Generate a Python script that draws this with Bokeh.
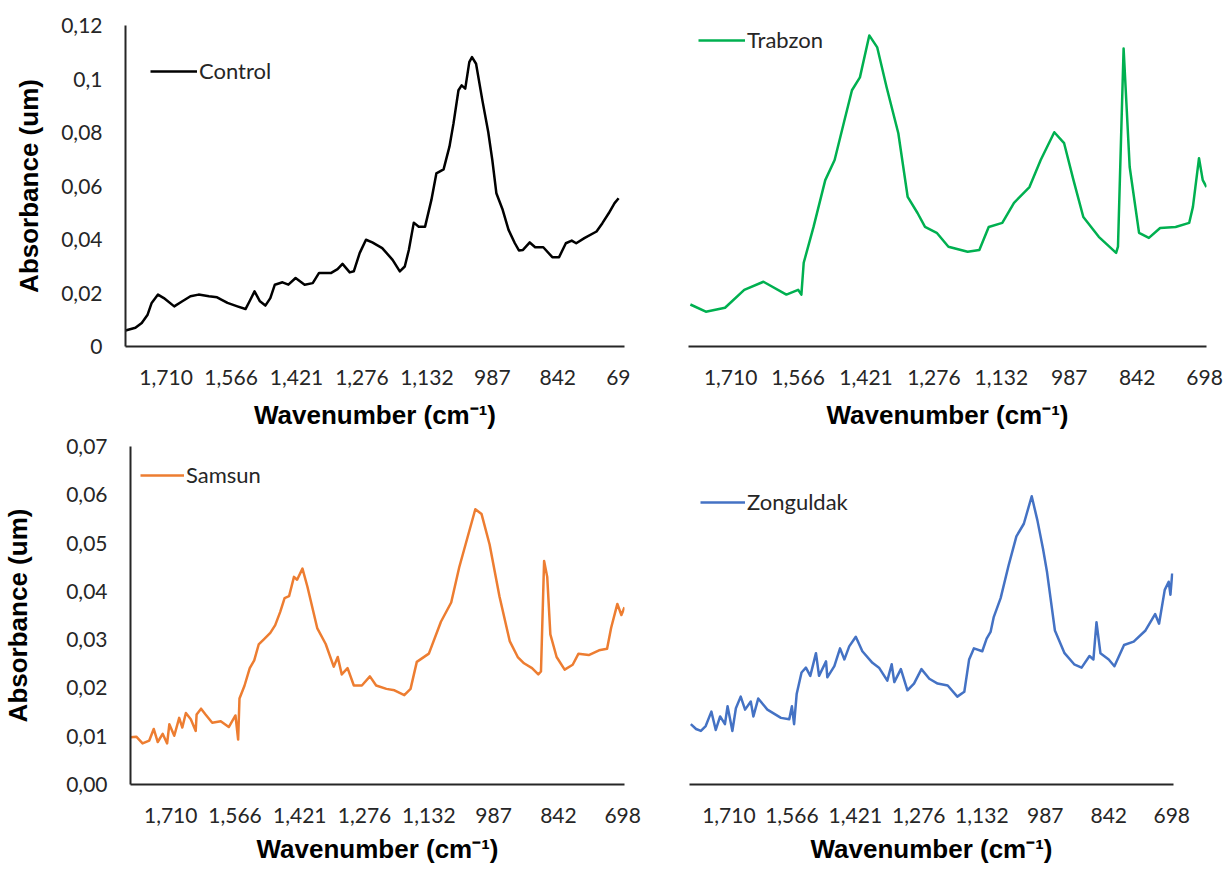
from bokeh.plotting import figure
from bokeh.layouts import column, row
from bokeh.models import Range1d, FixedTicker, Legend, LegendItem
from bokeh.embed import file_html
from bokeh.resources import INLINE

# ---------------- data ----------------
x_ticks = [1710, 1566, 1421, 1276, 1132, 987, 842, 698]
x_tick_labels = ["1,710", "1,566", "1,421", "1,276", "1,132", "987", "842", "698"]
# the Control panel is cropped in the reference: its last label reads "69"
ctrl_x_tick_labels = ["1,710", "1,566", "1,421", "1,276", "1,132", "987", "842", "69"]

ctrl_y_ticks = [0.0, 0.02, 0.04, 0.06, 0.08, 0.1, 0.12]
ctrl_y_labels = ["0", "0,02", "0,04", "0,06", "0,08", "0,1", "0,12"]

sams_y_ticks = [0.0, 0.01, 0.02, 0.03, 0.04, 0.05, 0.06, 0.07]
sams_y_labels = ["0,00", "0,01", "0,02", "0,03", "0,04", "0,05", "0,06", "0,07"]

control_wn = [1800, 1778, 1764, 1751, 1742, 1728, 1715, 1692, 1674, 1656,
              1638, 1615, 1597, 1574, 1552, 1534, 1525, 1514, 1502, 1490,
              1479, 1469, 1452, 1439, 1423, 1403, 1385, 1371, 1344, 1330,
              1319, 1303, 1294, 1281, 1267, 1253, 1231, 1208, 1192, 1181,
              1172, 1161, 1150, 1136, 1122, 1111, 1095, 1082, 1073, 1062,
              1055, 1047, 1038, 1032, 1023, 1009, 996, 987, 978, 964,
              951, 937, 928, 919, 904, 892, 874, 854, 839, 824,
              811, 801, 783, 756, 743, 729, 716, 707]
control_abs = [0.0060, 0.0070, 0.0088, 0.0119, 0.0163, 0.0194, 0.0181, 0.0150, 0.0169, 0.0188,
               0.0194, 0.0188, 0.0184, 0.0163, 0.0150, 0.0140, 0.0169, 0.0206, 0.0169, 0.0153,
               0.0181, 0.0231, 0.0240, 0.0231, 0.0256, 0.0231, 0.0237, 0.0275, 0.0275, 0.0289,
               0.0309, 0.0277, 0.0281, 0.0349, 0.0399, 0.0389, 0.0368, 0.0324, 0.0281, 0.0299,
               0.0361, 0.0463, 0.0448, 0.0448, 0.0548, 0.0647, 0.0662, 0.0747, 0.0834, 0.0958,
               0.0976, 0.0964, 0.1063, 0.1082, 0.1057, 0.0920, 0.0802, 0.0697, 0.0573, 0.0511,
               0.0436, 0.0386, 0.0359, 0.0361, 0.0389, 0.0371, 0.0371, 0.0334, 0.0334, 0.0386,
               0.0396, 0.0386, 0.0405, 0.0430, 0.0461, 0.0498, 0.0536, 0.0554]

trabzon_wn = [1796, 1763, 1722, 1681, 1640, 1591, 1566, 1559, 1554, 1533,
              1508, 1488, 1467, 1451, 1434, 1414, 1397, 1377, 1352, 1332,
              1311, 1295, 1270, 1245, 1204, 1179, 1159, 1130, 1105, 1072,
              1048, 1019, 998, 978, 957, 924, 887, 883, 871, 858,
              838, 817, 793, 760, 731, 723, 710, 702, 694]
trabzon_abs = [0.0157, 0.0130, 0.0145, 0.0212, 0.0242, 0.0194, 0.0212, 0.0194, 0.0313, 0.0447,
               0.0622, 0.0697, 0.0846, 0.0958, 0.1006, 0.1163, 0.1118, 0.0969, 0.0797, 0.0559,
               0.0499, 0.0447, 0.0425, 0.0373, 0.0354, 0.0361, 0.0447, 0.0462, 0.0537, 0.0596,
               0.0697, 0.0801, 0.0760, 0.0622, 0.0484, 0.0410, 0.0350, 0.0373, 0.1114, 0.0671,
               0.0425, 0.0406, 0.0443, 0.0447, 0.0462, 0.0522, 0.0704, 0.0622, 0.0596]

samsun_wn = [1800, 1787, 1773, 1758, 1748, 1739, 1728, 1718, 1713, 1702,
             1691, 1684, 1676, 1665, 1654, 1652, 1642, 1632, 1617, 1598,
             1580, 1565, 1559, 1556, 1545, 1533, 1523, 1513, 1502, 1487,
             1476, 1465, 1455,
             1445, 1434, 1427, 1415, 1404, 1382, 1363, 1345, 1336, 1327,
             1314, 1300, 1282, 1264, 1250, 1227, 1209, 1187, 1173, 1159,
             1132, 1105, 1082, 1064, 1046, 1028, 1014, 996, 974, 951,
             933, 919, 901, 887, 881, 874, 867, 860, 846, 828,
             810, 797, 774, 751, 733, 724, 710, 701, 694]
samsun_abs = [0.0098, 0.0099, 0.0085, 0.0091, 0.0115, 0.0088, 0.0105, 0.0085, 0.0125, 0.0101,
              0.0138, 0.0118, 0.0148, 0.0135, 0.0111, 0.0145, 0.0157, 0.0145, 0.0128, 0.0131,
              0.0119, 0.0143, 0.0093, 0.0178, 0.0204, 0.0241, 0.0257, 0.0290, 0.0300, 0.0314,
              0.0330, 0.0357, 0.0386,
              0.0390, 0.0430, 0.0424, 0.0447, 0.0410, 0.0324, 0.0291, 0.0244, 0.0264, 0.0228,
              0.0241, 0.0205, 0.0205, 0.0224, 0.0205, 0.0198, 0.0195, 0.0185, 0.0198, 0.0254,
              0.0271, 0.0337, 0.0377, 0.0450, 0.0510, 0.0570, 0.0560, 0.0497, 0.0390, 0.0297,
              0.0264, 0.0251, 0.0241, 0.0228, 0.0234, 0.0463, 0.0430, 0.0311, 0.0264, 0.0238,
              0.0248, 0.0271, 0.0268, 0.0278, 0.0281, 0.0324, 0.0374, 0.0351, 0.0367]

zonguldak_wn = [1797, 1785, 1774, 1763, 1750, 1740, 1730, 1719, 1713, 1702,
                1694, 1683, 1673, 1660, 1654, 1643, 1622, 1591, 1572, 1566,
                1561, 1555, 1544, 1534, 1524, 1511, 1504, 1488, 1485, 1469,
                1456, 1446, 1435, 1420, 1405, 1382, 1367, 1348, 1338, 1332,
                1317, 1302, 1287, 1270, 1252, 1233, 1210, 1188, 1172, 1161,
                1150, 1131, 1121, 1112, 1105, 1089, 1071, 1053, 1036, 1018,
                1005, 992, 983, 965, 943, 921, 904, 886, 877, 870,
                861, 842, 829, 807, 785, 758, 736, 727, 714, 705,
                701, 697]
zonguldak_abs = [0.0125, 0.0115, 0.0111, 0.0121, 0.0151, 0.0113, 0.0141, 0.0125, 0.0162, 0.0111,
                 0.0158, 0.0182, 0.0155, 0.0172, 0.0141, 0.0178, 0.0155, 0.0138, 0.0135, 0.0162,
                 0.0125, 0.0188, 0.0232, 0.0242, 0.0225, 0.0272, 0.0225, 0.0255, 0.0222, 0.0245,
                 0.0282, 0.0259, 0.0286, 0.0306, 0.0276, 0.0252, 0.0242, 0.0215, 0.0249, 0.0212,
                 0.0239, 0.0195, 0.0209, 0.0239, 0.0219, 0.0209, 0.0205, 0.0182, 0.0192, 0.0259,
                 0.0282, 0.0276, 0.0302, 0.0316, 0.0346, 0.0386, 0.0453, 0.0514, 0.0540, 0.0597,
                 0.0547, 0.0487, 0.0440, 0.0319, 0.0272, 0.0249, 0.0242, 0.0266, 0.0259, 0.0336,
                 0.0272, 0.0259, 0.0245, 0.0289, 0.0296, 0.0319, 0.0353, 0.0333, 0.0403, 0.0420,
                 0.0393, 0.0437]

X_START, X_END = 1800, 694
TICK_FONT = "Lato"
TICK_COLOR = "#262626"
AXIS_COLOR = "#262626"


def make_panel(width, height, bl, br, bt, bb, ymax, show_y, xlabels, yticks=None, ylabels=None,
               y_label_standoff=14, x_label_standoff=23, x_axis_label_standoff=12,
               axis_w=2):
    p = figure(width=width, height=height, title=None,
               x_range=Range1d(X_START, X_END), y_range=Range1d(0, ymax),
               output_backend="svg", toolbar_location=None,
               min_border_left=bl, min_border_right=br,
               min_border_top=bt, min_border_bottom=bb)
    p.outline_line_color = None
    p.grid.visible = False
    p.background_fill_color = "white"
    p.border_fill_color = "white"

    xa = p.xaxis[0]
    xa.ticker = FixedTicker(ticks=x_ticks)
    xa.major_label_overrides = {t: l for t, l in zip(x_ticks, xlabels)}
    xa.major_tick_out = 0
    xa.major_tick_in = 0
    xa.minor_tick_out = 0
    xa.minor_tick_in = 0
    xa.major_label_standoff = x_label_standoff
    xa.major_label_text_font = TICK_FONT
    xa.major_label_text_font_size = "21px"
    xa.major_label_text_color = TICK_COLOR
    xa.axis_line_color = AXIS_COLOR
    xa.axis_line_width = axis_w
    xa.axis_label = "Wavenumber (cm\u207b\u00b9)"
    xa.axis_label_text_font = "Liberation Sans"
    xa.axis_label_text_font_style = "bold"
    xa.axis_label_text_font_size = "26px"
    xa.axis_label_text_color = "black"
    xa.axis_label_standoff = x_axis_label_standoff

    ya = p.yaxis[0]
    if show_y:
        ya.ticker = FixedTicker(ticks=yticks)
        ya.major_label_overrides = {t: l for t, l in zip(yticks, ylabels)}
        ya.major_tick_out = 0
        ya.major_tick_in = 0
        ya.minor_tick_out = 0
        ya.minor_tick_in = 0
        ya.major_label_standoff = 23
        ya.major_label_text_font = TICK_FONT
        ya.major_label_text_font_size = "21px"
        ya.major_label_text_color = TICK_COLOR
        ya.axis_line_color = AXIS_COLOR
        ya.axis_line_width = axis_w
        ya.axis_label = "Absorbance (um)"
        ya.axis_label_text_font = "Liberation Sans"
        ya.axis_label_text_font_style = "bold"
        ya.axis_label_text_font_size = "26px"
        ya.axis_label_text_color = "black"
        ya.axis_label_standoff = y_label_standoff
    else:
        ya.visible = False
    return p


def add_series(p, xs, ys, color, name, dx, dist_top, glyph_w, frame_h):
    r = p.line(xs, ys, line_color=color, line_width=2.5, line_join="round")
    item_h = 26
    leg = Legend(items=[LegendItem(label=name, renderers=[r])],
                 location=(dx, frame_h - dist_top - item_h / 2),
                 glyph_width=glyph_w, glyph_height=item_h, label_height=item_h,
                 label_standoff=2, padding=0, margin=0, spacing=0,
                 label_text_font=TICK_FONT, label_text_font_size="22px",
                 label_text_color=TICK_COLOR,
                 border_line_color=None, background_fill_alpha=0)
    p.add_layout(leg)
    return r


TOP_H, BOT_H = 432, 436
TOP_BT, TOP_BB = 25, 85
BOT_BT, BOT_BB = 14, 84
top_frame_h = TOP_H - TOP_BT - TOP_BB
bot_frame_h = BOT_H - BOT_BT - BOT_BB

p1 = make_panel(630, TOP_H, 125, 6, TOP_BT, TOP_BB, 0.12, True, ctrl_x_tick_labels,
                ctrl_y_ticks, ctrl_y_labels, y_label_standoff=14)
add_series(p1, control_wn, control_abs, "#000000", "Control", 25, 47, 47, top_frame_h)

p2 = make_panel(594, TOP_H, 58, 18, TOP_BT, TOP_BB, 0.12, False, x_tick_labels, axis_w=1.8)
add_series(p2, trabzon_wn, trabzon_abs, "#00B050", "Trabzon", 10, 16, 47, top_frame_h)

p3 = make_panel(648, BOT_H, 125, 24, BOT_BT, BOT_BB, 0.07, True, x_tick_labels,
                sams_y_ticks, sams_y_labels,
                y_label_standoff=30, x_label_standoff=23, x_axis_label_standoff=8)
add_series(p3, samsun_wn, samsun_abs, "#ED7D31", "Samsun", 10, 29, 44, bot_frame_h)

p4 = make_panel(576, BOT_H, 41, 51, BOT_BT, BOT_BB, 0.07, False, x_tick_labels,
                x_label_standoff=23, x_axis_label_standoff=8, axis_w=1.8)
add_series(p4, zonguldak_wn, zonguldak_abs, "#4472C4", "Zonguldak", 11, 56, 45, bot_frame_h)

layout = column(row(p1, p2, spacing=0), row(p3, p4, spacing=0), spacing=0)

open("out.html", "w").write(file_html(layout, INLINE))
